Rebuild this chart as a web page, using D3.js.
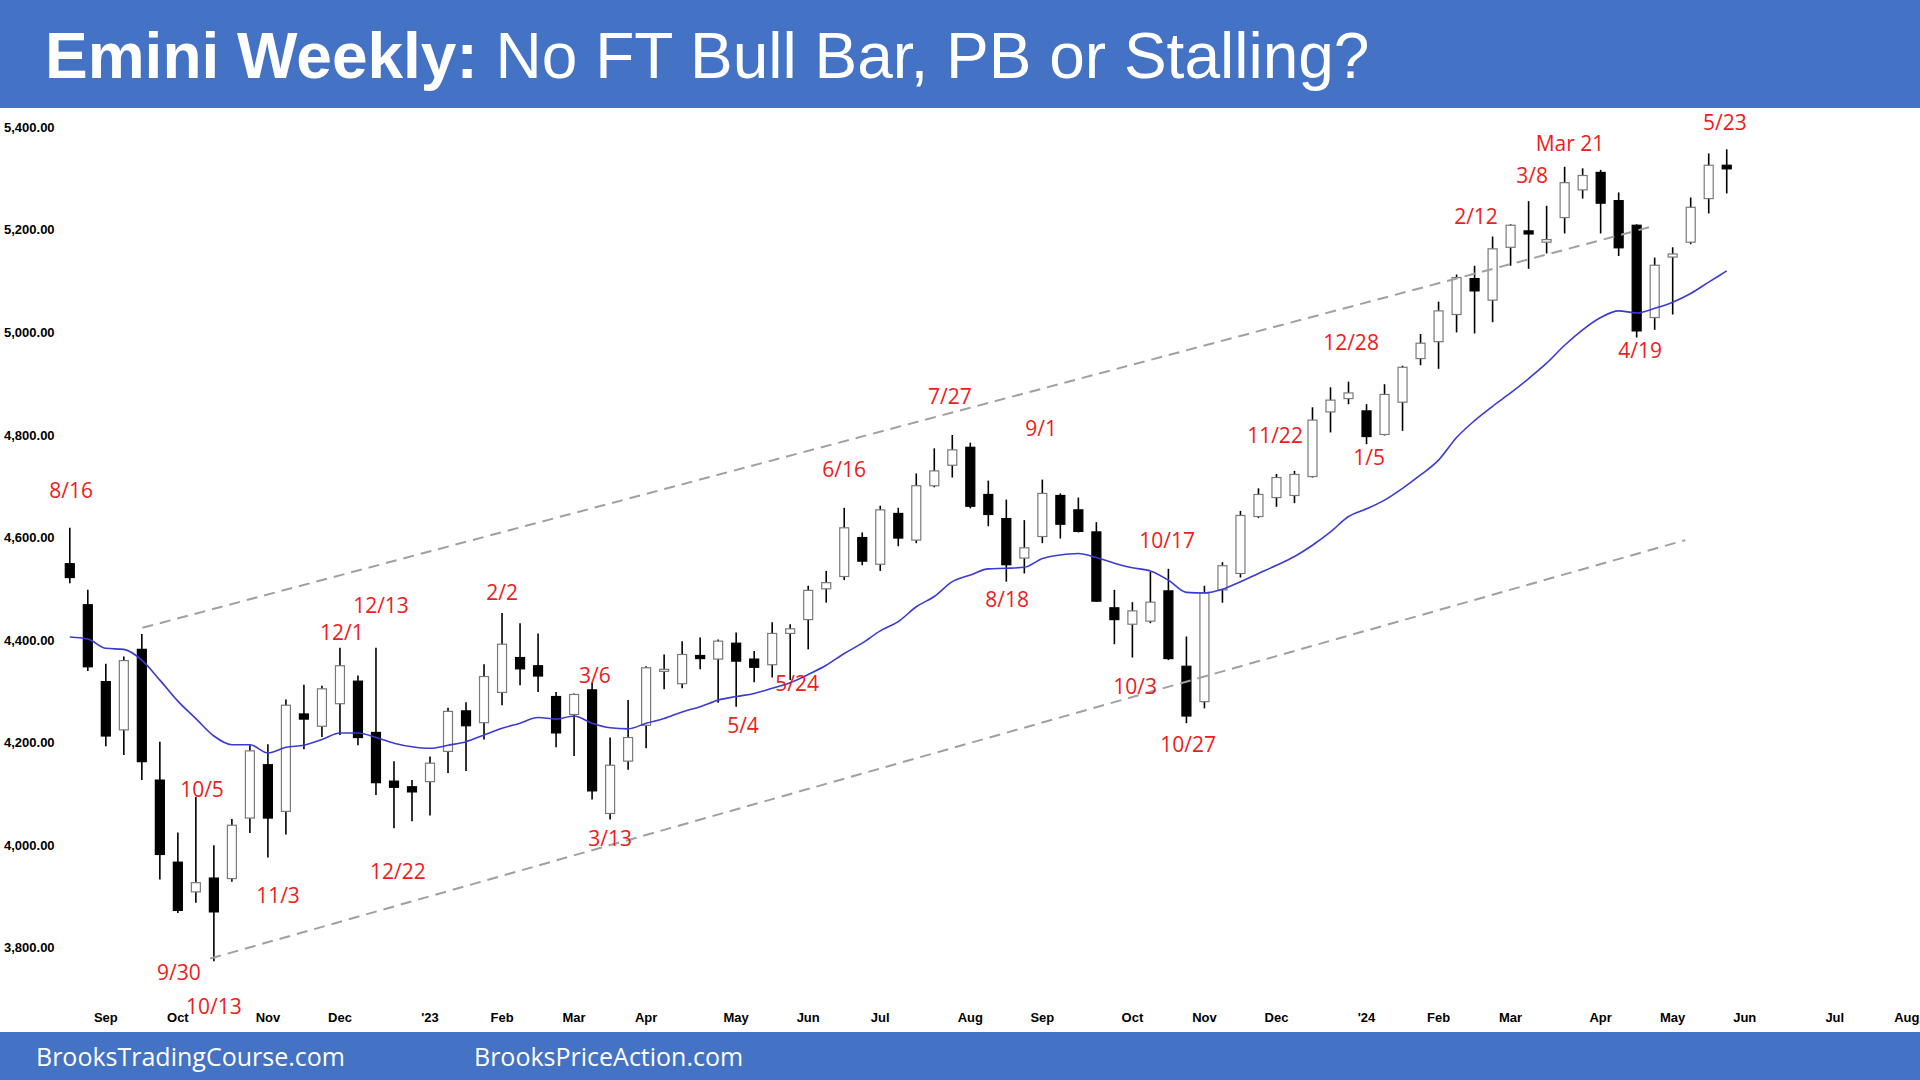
<!DOCTYPE html>
<html>
<head>
<meta charset="utf-8">
<script src="https://cdn.jsdelivr.net/npm/d3@7"></script>
<style>
  html, body { margin: 0; padding: 0; background: #ffffff; }
  svg { display: block; }
</style>
</head>
<body>
<svg id="chart" width="1920" height="1080"></svg>
<script>
// ---------------- DATA ----------------
// Weekly Emini bars; first bar = week starting Sunday 2022-08-14
const firstWeek = "2022-08-14";

const openP = [4549,4469,4319,4225,4382,4127,3967,3909,3936,3935,4053,4157,4066,4256,4232,4276,4320,4220,4125,4114,
  4124,4183,4262,4239,4298,4366,4350,4290,4255,4303,4062,4164,4234,4341,4315,4370,4363,4394,4363,4352,
  4413,4440,4500,4524,4600,4548,4647,4595,4701,4741,4776,4684,4637,4560,4602,4682,4654,4611,4463,4431,
  4437,4496,4349,4280,4498,4530,4641,4678,4682,4719,4845,4871,4847,4801,4864,4949,4982,5035,5105,5063,
  5166,5198,5176,5224,5278,5312,5257,5209,5029,5147,5176,5261,5326];
const highP = [4619,4498,4354,4368,4412,4202,4025,4094,4000,4051,4195,4197,4284,4313,4311,4385,4331,4385,4164,4127,
  4173,4268,4279,4353,4453,4433,4413,4299,4296,4317,4210,4283,4349,4372,4398,4405,4401,4415,4379,4435,
  4431,4506,4535,4658,4610,4662,4658,4725,4774,4800,4785,4711,4674,4634,4713,4686,4678,4630,4498,4474,
  4533,4539,4407,4506,4552,4652,4696,4724,4730,4854,4893,4904,4860,4899,4935,4997,5060,5113,5130,5187,
  5211,5256,5247,5323,5320,5317,5273,5211,5146,5166,5263,5349,5357];
const lowP = [4511,4340,4193,4176,4127,3933,3868,3888,3774,3929,4024,3976,4021,4187,4211,4215,4195,4098,4033,4047,
  4058,4141,4145,4206,4273,4312,4299,4191,4174,4089,4050,4147,4189,4304,4306,4343,4278,4270,4318,4327,
  4322,4382,4473,4517,4546,4535,4583,4589,4698,4717,4657,4622,4514,4530,4589,4598,4610,4475,4392,4366,
  4433,4361,4238,4267,4473,4522,4638,4660,4667,4717,4805,4860,4782,4799,4808,4936,4929,5000,4998,5020,
  5130,5124,5154,5193,5261,5193,5149,4990,5005,5035,5172,5232,5271];
const closeP = [4522,4348,4213,4360,4163,3982,3873,3927,3870,4039,4184,4053,4273,4246,4305,4350,4210,4122,4113,4104,
  4160,4261,4233,4329,4392,4344,4330,4219,4294,4106,4156,4210,4346,4343,4372,4364,4398,4359,4347,4413,
  4422,4497,4512,4619,4554,4654,4599,4701,4730,4771,4661,4645,4547,4580,4686,4626,4612,4476,4440,4457,
  4474,4364,4252,4492,4545,4643,4684,4717,4723,4829,4868,4882,4797,4879,4932,4979,5042,5107,5081,5163,
  5209,5192,5181,5292,5306,5252,5165,5003,5131,5153,5244,5326,5319];
// 20-week moving average
const ma20 = [4406,4402,4384,4382,4361,4322,4281,4247,4213,4196,4196,4180,4191,4195,4206,4219,4219,4210,4199,4192,
  4189,4195,4202,4215,4228,4238,4249,4246,4252,4238,4229,4227,4238,4247,4260,4270,4283,4290,4296,4306,
  4317,4333,4351,4374,4394,4418,4436,4465,4485,4514,4527,4539,4540,4542,4559,4566,4569,4561,4550,4541,
  4535,4517,4493,4492,4499,4514,4530,4546,4563,4585,4611,4641,4656,4673,4696,4722,4751,4795,4828,4856,
  4882,4910,4940,4975,5005,5029,5042,5038,5047,5059,5076,5098,5120];

// Channel lines: [week index, price]
const channelUpper = [[4.03, 4424], [87.8, 5206]];
const channelLower = [[7.8, 3779], [89.7, 4595]];

// Axis tick labels
const yTicks = [3800, 4000, 4200, 4400, 4600, 4800, 5000, 5200, 5400];
const monthStarts = ["2022-09-01","2022-10-01","2022-11-01","2022-12-01","2023-01-01","2023-02-01","2023-03-01",
  "2023-04-01","2023-05-01","2023-06-01","2023-07-01","2023-08-01","2023-09-01","2023-10-01","2023-11-01",
  "2023-12-01","2024-01-01","2024-02-01","2024-03-01","2024-04-01","2024-05-01","2024-06-01","2024-07-01","2024-08-01"];
const monthLabels = ["Sep","Oct","Nov","Dec","'23","Feb","Mar","Apr","May","Jun","Jul","Aug","Sep","Oct","Nov",
  "Dec","'24","Feb","Mar","Apr","May","Jun","Jul","Aug"];

// Annotations: text, week index, price
const noteText = ["8/16","10/5","9/30","10/13","11/3","12/1","12/13","12/22","2/2","3/6","3/13","5/4","5/24","6/16",
  "7/27","9/1","8/18","10/17","10/3","10/27","11/22","12/28","1/5","2/12","3/8","Mar 21","5/23","4/19"];
const noteWeek = [0.07,7.34,6.06,8.0,11.56,15.11,17.28,18.22,24.0,29.16,30.0,37.38,40.38,42.99,
  48.87,53.93,52.04,60.93,59.15,62.09,66.92,71.14,72.14,78.08,81.19,83.3,91.9,87.19];
const notePrice = [4691,4109,3752,3686,3903,4415,4467,3948,4492,4332,4013,4233,4316,4732,
  4875,4812,4480,4595,4310,4196,4800,4981,4757,5227,5307,5369,5410,4964];

const titleBold = "Emini Weekly:";
const titleRest = " No FT Bull Bar, PB or Stalling?";
const footer1 = "BrooksTradingCourse.com";
const footer2 = "BrooksPriceAction.com";

// ---------------- DRAW ----------------
const W = 1920, H = 1080;
const svg = d3.select("#chart");
const BLUE = "#4472C4";
const RED = "#ee1c1c";

const x = d3.scaleLinear().domain([0, 92]).range([69.8, 69.8 + 92 * 18.01]);
const y = d3.scaleLinear().domain([3800, 5400]).range([947.8, 127.3]);

const t0 = d3.timeParse("%Y-%m-%d")(firstWeek);
const weekIndex = d => Math.round((d3.timeWeek.floor(d) - t0) / (7 * 864e5));

svg.append("rect").attr("x", 0).attr("y", 0).attr("width", W).attr("height", H).attr("fill", "#fff");

// header
svg.append("rect").attr("x", 0).attr("y", 0).attr("width", W).attr("height", 108).attr("fill", BLUE);
const title = svg.append("text").attr("x", 45).attr("y", 78)
  .attr("font-family", "'Liberation Sans', Arial, sans-serif").attr("font-size", 64).attr("fill", "#fff");
title.append("tspan").attr("font-weight", "bold").text(titleBold);
title.append("tspan").attr("font-weight", "normal").text(titleRest);

// footer
svg.append("rect").attr("x", 0).attr("y", 1032).attr("width", W).attr("height", 48).attr("fill", BLUE);
svg.append("text").attr("x", 36).attr("y", 1066).attr("fill", "#fff")
  .attr("font-family", "'Open Sans', sans-serif").attr("font-size", 25).text(footer1);
svg.append("text").attr("x", 474).attr("y", 1066).attr("fill", "#fff")
  .attr("font-family", "'Open Sans', sans-serif").attr("font-size", 25).text(footer2);

// y axis labels
const fmt = d3.format(",.2f");
svg.append("g").selectAll("text").data(yTicks).join("text")
  .attr("x", 4).attr("y", d => y(d)).attr("dy", "0.35em")
  .attr("font-family", "'Liberation Sans', Arial, sans-serif").attr("font-weight", "bold")
  .attr("font-size", 13).attr("fill", "#000").text(d => fmt(d));

// x axis month labels
const parse = d3.timeParse("%Y-%m-%d");
svg.append("g").selectAll("text").data(monthStarts).join("text")
  .attr("x", d => x(weekIndex(parse(d)))).attr("y", 1022)
  .attr("text-anchor", "middle")
  .attr("font-family", "'Liberation Sans', Arial, sans-serif").attr("font-weight", "bold")
  .attr("font-size", 13).attr("fill", "#000").text((d, i) => monthLabels[i]);

// candles
const bars = d3.range(openP.length).map(i => ({i, o: openP[i], h: highP[i], l: lowP[i], c: closeP[i]}));
const bw = 9;
const cg = svg.append("g");
cg.selectAll("line").data(bars).join("line")
  .attr("x1", d => x(d.i)).attr("x2", d => x(d.i))
  .attr("y1", d => y(d.h)).attr("y2", d => y(d.l))
  .attr("stroke", "#000").attr("stroke-width", 1.6);
cg.selectAll("rect").data(bars).join("rect")
  .attr("x", d => x(d.i) - bw / 2)
  .attr("y", d => y(Math.max(d.o, d.c)))
  .attr("width", bw)
  .attr("height", d => Math.max(2, Math.abs(y(d.o) - y(d.c))))
  .attr("fill", d => d.c >= d.o ? "#fff" : "#000")
  .attr("stroke", d => d.c >= d.o ? "#7a7a7a" : "#000")
  .attr("stroke-width", 1.2);

// channel lines
const lineGen = d3.line().x(d => x(d[0])).y(d => y(d[1]));
[channelUpper, channelLower].forEach(seg => {
  svg.append("path").attr("d", lineGen(seg)).attr("fill", "none")
    .attr("stroke", "#a0a0a0").attr("stroke-width", 2).attr("stroke-dasharray", "11,7");
});

// moving average
svg.append("path").datum(ma20)
  .attr("d", d3.line().x((d, i) => x(i)).y(d => y(d)).curve(d3.curveMonotoneX))
  .attr("fill", "none").attr("stroke", "#3b3bd0").attr("stroke-width", 1.6);

// annotations
svg.append("g").selectAll("text").data(noteText).join("text")
  .attr("x", (d, i) => x(noteWeek[i])).attr("y", (d, i) => y(notePrice[i]))
  .attr("dy", "0.36em").attr("text-anchor", "middle")
  .attr("font-family", "'Open Sans', sans-serif").attr("font-size", 21)
  .attr("fill", RED).text(d => d);
</script>
</body>
</html>
